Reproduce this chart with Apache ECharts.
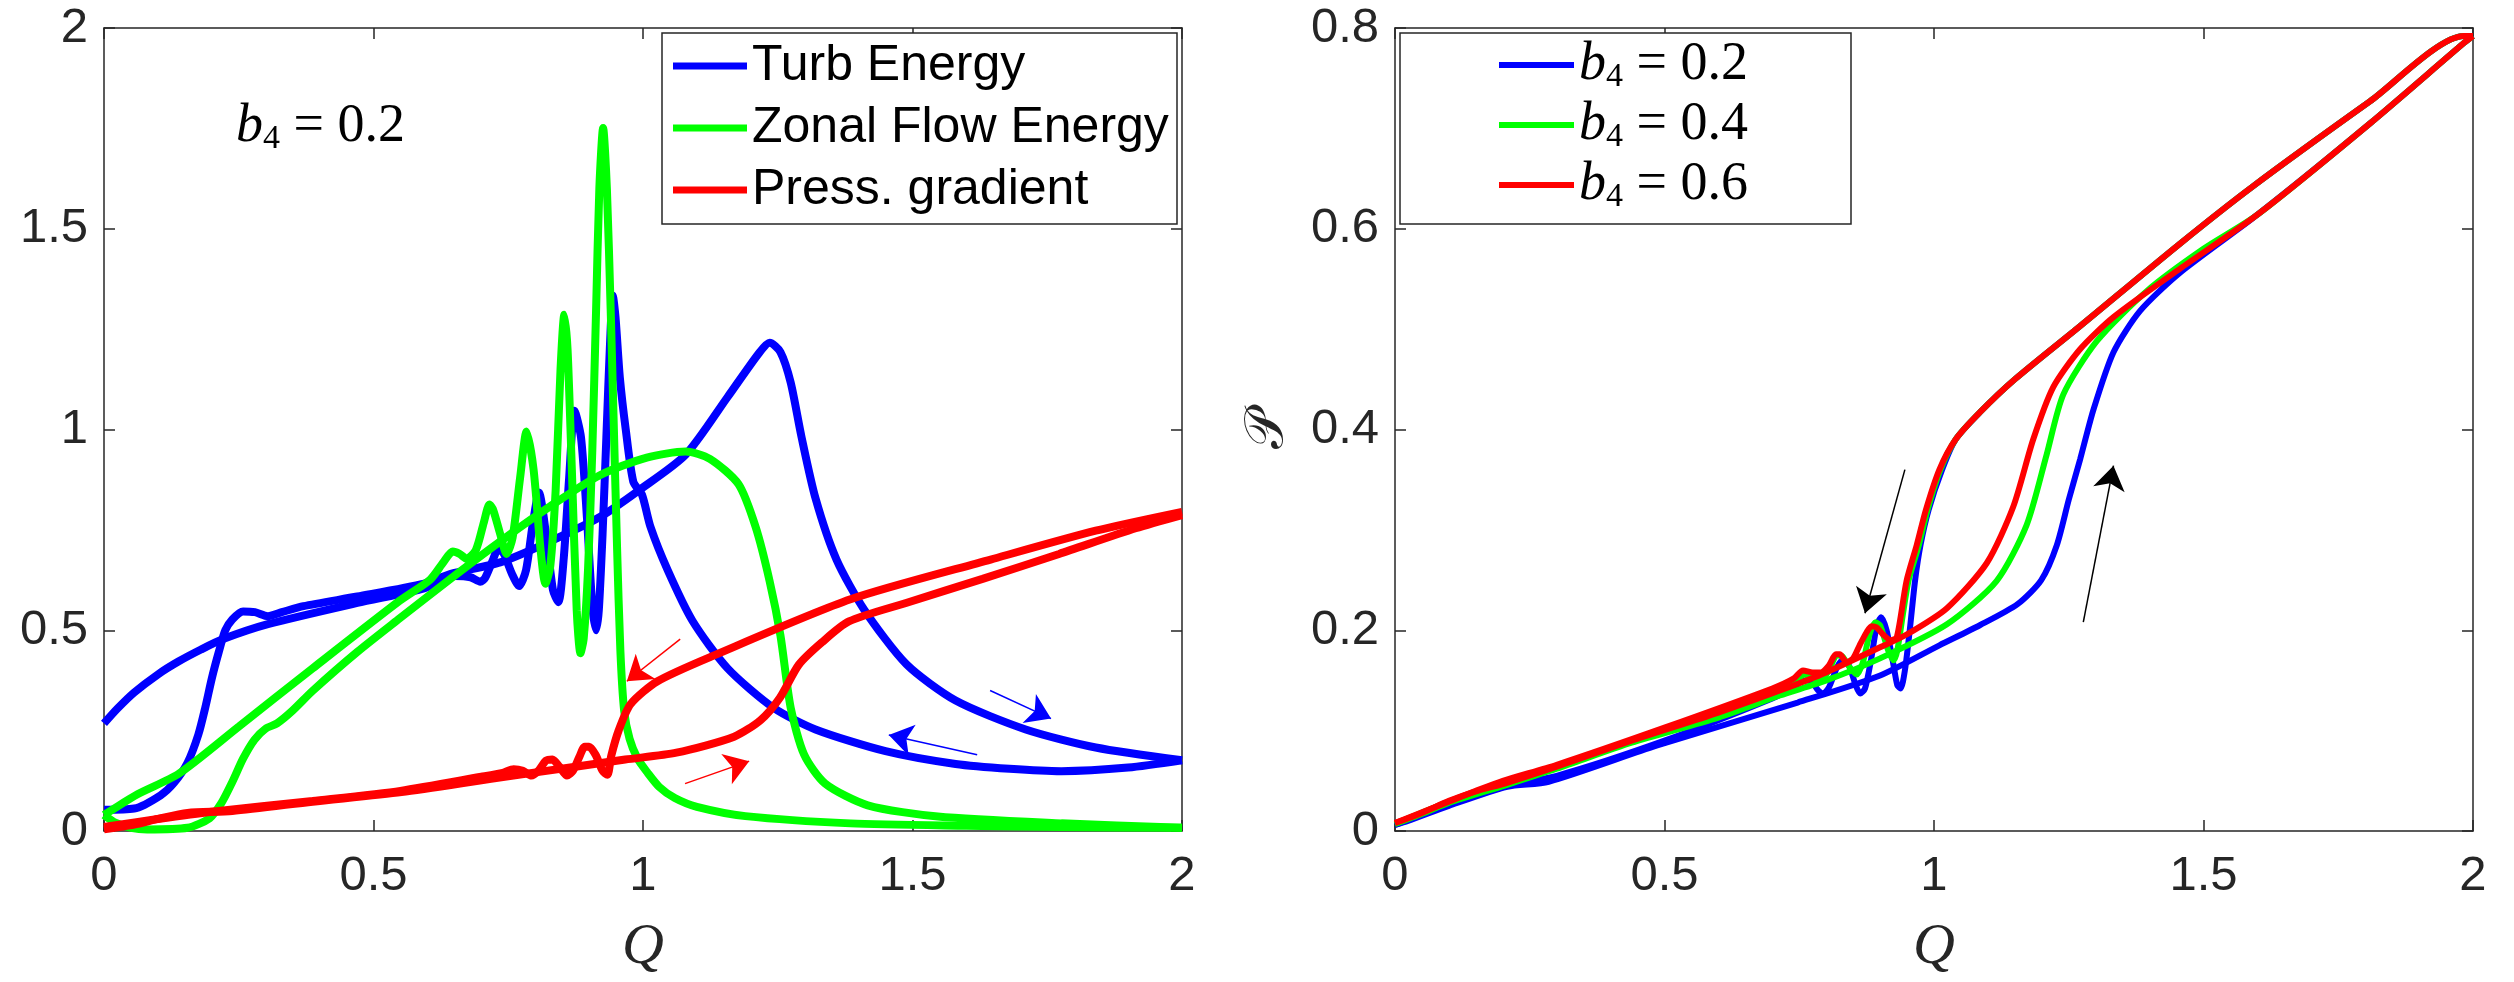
<!DOCTYPE html>
<html>
<head>
<meta charset="utf-8">
<script src="https://cdn.jsdelivr.net/npm/echarts@6/dist/echarts.min.js"></script>
<style>
html, body { margin: 0; padding: 0; background: #fff; }
#chart { width: 2514px; height: 982px; }
</style>
</head>
<body>
<div id="chart"></div>
<script>
// ---- left panel (b4 = 0.2): [Q, value] pairs, up = increasing Q, down = returning ----
var turbUp = [[0,0.053],[0.056,0.056],[0.105,0.089],[0.13,0.12],[0.155,0.17],[0.175,0.24],[0.188,0.308],[0.2,0.38],[0.213,0.446],[0.225,0.5],[0.238,0.527],[0.258,0.547],[0.28,0.545],[0.304,0.535],[0.33,0.545],[0.37,0.56],[0.47,0.584],[0.594,0.616],[0.642,0.64],[0.735,0.669],[0.827,0.721],[0.92,0.782],[0.994,0.85],[1.079,0.937],[1.157,1.081],[1.215,1.19],[1.235,1.216],[1.255,1.193],[1.274,1.117],[1.294,0.982],[1.32,0.829],[1.359,0.676],[1.411,0.55],[1.489,0.415],[1.58,0.325],[1.71,0.253],[1.84,0.208],[2,0.176]];
var turbDown = [[2,0.176],[1.9,0.158],[1.776,0.149],[1.68,0.155],[1.58,0.167],[1.45,0.199],[1.32,0.253],[1.242,0.307],[1.157,0.405],[1.092,0.523],[1.046,0.649],[1.014,0.757],[0.998,0.838],[0.982,0.87],[0.968,1.0],[0.957,1.13],[0.949,1.28],[0.944,1.334],[0.939,1.22],[0.932,0.98],[0.925,0.74],[0.918,0.55],[0.913,0.5],[0.906,0.56],[0.896,0.78],[0.885,0.98],[0.873,1.047],[0.863,0.88],[0.853,0.68],[0.843,0.57],[0.833,0.6],[0.82,0.74],[0.807,0.843],[0.795,0.76],[0.783,0.65],[0.77,0.61],[0.757,0.64],[0.742,0.69],[0.732,0.704],[0.72,0.67],[0.707,0.63],[0.698,0.621],[0.68,0.632],[0.65,0.635],[0.594,0.604],[0.47,0.568],[0.304,0.515],[0.221,0.478],[0.18,0.452],[0.138,0.422],[0.1,0.39],[0.056,0.345],[0.025,0.305],[0,0.268]];
var zonalUp = [[0,0.04],[0.022,0.02],[0.05,0.008],[0.08,0.004],[0.155,0.008],[0.196,0.032],[0.218,0.07],[0.238,0.122],[0.258,0.18],[0.279,0.227],[0.3,0.255],[0.321,0.268],[0.35,0.3],[0.387,0.349],[0.47,0.446],[0.549,0.53],[0.635,0.62],[0.735,0.721],[0.827,0.808],[0.92,0.886],[1.007,0.93],[1.079,0.945],[1.124,0.927],[1.177,0.864],[1.209,0.757],[1.235,0.622],[1.255,0.487],[1.274,0.307],[1.299,0.19],[1.338,0.118],[1.417,0.064],[1.547,0.036],[1.776,0.019],[2,0.008]];
var zonalDown = [[2,0.008],[1.776,0.01],[1.6,0.013],[1.385,0.019],[1.19,0.037],[1.1,0.06],[1.059,0.082],[1.03,0.11],[1.008,0.146],[0.99,0.18],[0.975,0.23],[0.965,0.3],[0.958,0.45],[0.952,0.7],[0.946,1.0],[0.94,1.3],[0.933,1.6],[0.926,1.751],[0.919,1.6],[0.913,1.3],[0.906,0.95],[0.898,0.65],[0.89,0.48],[0.884,0.443],[0.877,0.55],[0.868,0.9],[0.86,1.2],[0.854,1.286],[0.847,1.15],[0.838,0.85],[0.828,0.66],[0.819,0.616],[0.81,0.7],[0.797,0.9],[0.784,0.995],[0.772,0.88],[0.758,0.73],[0.747,0.69],[0.735,0.74],[0.722,0.8],[0.715,0.813],[0.705,0.77],[0.69,0.7],[0.673,0.678],[0.66,0.69],[0.647,0.696],[0.63,0.67],[0.605,0.626],[0.549,0.574],[0.387,0.405],[0.25,0.26],[0.138,0.142],[0.063,0.092],[0,0.04]];
var pressUp = [[0,0.004],[0.056,0.016],[0.1,0.03],[0.155,0.045],[0.238,0.05],[0.387,0.073],[0.552,0.097],[0.718,0.13],[0.884,0.162],[0.967,0.178],[1.062,0.195],[1.169,0.235],[1.218,0.276],[1.254,0.332],[1.289,0.414],[1.332,0.47],[1.382,0.522],[1.488,0.568],[1.63,0.628],[1.772,0.69],[1.914,0.754],[2,0.787]];
var pressDown = [[2,0.795],[1.84,0.748],[1.645,0.676],[1.385,0.577],[1.133,0.438],[1.027,0.373],[0.977,0.316],[0.955,0.251],[0.941,0.187],[0.934,0.14],[0.925,0.15],[0.912,0.19],[0.9,0.21],[0.892,0.21],[0.882,0.185],[0.87,0.15],[0.859,0.138],[0.845,0.16],[0.832,0.178],[0.82,0.175],[0.806,0.15],[0.793,0.138],[0.777,0.15],[0.76,0.154],[0.74,0.145],[0.7,0.135],[0.55,0.1],[0.387,0.075],[0.2,0.048],[0.1,0.03],[0,0.01]];

// ---- right panel: P against Q for three b4 values ----
var b2Up = [[0,0.006],[0.024,0.01],[0.1,0.025],[0.208,0.044],[0.285,0.049],[0.485,0.085],[0.747,0.128],[0.9,0.155],[1.01,0.185],[1.085,0.205],[1.155,0.226],[1.199,0.25],[1.228,0.285],[1.25,0.33],[1.271,0.37],[1.296,0.42],[1.333,0.477],[1.382,0.518],[1.456,0.556],[1.6,0.614],[1.809,0.705],[1.983,0.785],[2,0.792]];
var b2Down = [[2,0.792],[1.983,0.792],[1.809,0.727],[1.591,0.642],[1.456,0.585],[1.271,0.503],[1.15,0.45],[1.085,0.417],[1.04,0.39],[1.015,0.36],[0.99,0.32],[0.975,0.285],[0.965,0.25],[0.955,0.2],[0.946,0.16],[0.938,0.142],[0.932,0.145],[0.924,0.168],[0.912,0.2],[0.902,0.213],[0.894,0.205],[0.883,0.17],[0.872,0.142],[0.863,0.137],[0.855,0.145],[0.842,0.165],[0.83,0.17],[0.82,0.163],[0.805,0.143],[0.794,0.137],[0.785,0.14],[0.77,0.15],[0.755,0.15],[0.74,0.143],[0.7,0.132],[0.5,0.09],[0.3,0.055],[0.2,0.045],[0.1,0.027],[0,0.006]];
var b4Up = [[0,0.007],[0.05,0.017],[0.1,0.028],[0.208,0.046],[0.3,0.062],[0.439,0.088],[0.6,0.113],[0.714,0.135],[0.8,0.15],[0.9,0.172],[1.024,0.206],[1.116,0.249],[1.172,0.305],[1.209,0.375],[1.24,0.435],[1.302,0.488],[1.395,0.538],[1.5,0.58],[1.6,0.614],[1.809,0.705],[1.983,0.785],[2,0.792]];
var b4Down = [[2,0.792],[1.983,0.792],[1.809,0.727],[1.591,0.642],[1.456,0.585],[1.271,0.503],[1.15,0.45],[1.085,0.417],[1.04,0.39],[1.012,0.36],[0.988,0.32],[0.972,0.285],[0.953,0.25],[0.942,0.215],[0.932,0.18],[0.925,0.17],[0.915,0.18],[0.9,0.205],[0.891,0.208],[0.88,0.195],[0.868,0.168],[0.857,0.156],[0.845,0.162],[0.83,0.174],[0.82,0.175],[0.805,0.16],[0.79,0.15],[0.775,0.152],[0.76,0.156],[0.74,0.148],[0.7,0.138],[0.5,0.1],[0.3,0.064],[0.2,0.047],[0.1,0.029],[0,0.007]];
var b6Up = [[0,0.008],[0.05,0.018],[0.1,0.03],[0.147,0.039],[0.208,0.048],[0.3,0.064],[0.439,0.09],[0.6,0.118],[0.714,0.14],[0.8,0.158],[0.9,0.183],[0.95,0.196],[1.024,0.222],[1.098,0.267],[1.147,0.323],[1.184,0.39],[1.221,0.442],[1.271,0.48],[1.333,0.512],[1.456,0.56],[1.6,0.614],[1.809,0.705],[1.983,0.785],[2,0.792]];
var b6Down = [[2,0.792],[1.983,0.792],[1.809,0.727],[1.591,0.642],[1.456,0.585],[1.271,0.503],[1.15,0.45],[1.085,0.417],[1.04,0.39],[1.01,0.36],[0.985,0.32],[0.968,0.285],[0.949,0.249],[0.931,0.193],[0.92,0.19],[0.905,0.196],[0.893,0.203],[0.884,0.204],[0.875,0.198],[0.862,0.185],[0.85,0.172],[0.838,0.168],[0.825,0.176],[0.818,0.176],[0.805,0.165],[0.79,0.158],[0.775,0.158],[0.757,0.16],[0.74,0.152],[0.7,0.142],[0.5,0.103],[0.3,0.066],[0.2,0.05],[0.15,0.04],[0.08,0.025],[0,0.008]];

// direction arrows: [from, to] in data coordinates
var leftArrows = [
    {color: '#ff0000', coords: [[1.069,0.478],[0.97,0.373]]},
    {color: '#ff0000', coords: [[1.078,0.118],[1.197,0.174]]},
    {color: '#0000ff', coords: [[1.644,0.35],[1.757,0.28]]},
    {color: '#0000ff', coords: [[1.62,0.19],[1.456,0.239]]}
];
var rightArrows = [
    {color: '#000000', coords: [[0.946,0.36],[0.872,0.217]]},
    {color: '#000000', coords: [[1.277,0.208],[1.333,0.364]]}
];

var leftNames = ['Turb Energy', 'Zonal Flow Energy', 'Press. gradient'];
var rightNames = ['0.2', '0.4', '0.6'];
var xTicks = [0, 2, 0.5];
var leftYTicks = [0, 2, 0.5];
var rightYTicks = [0, 0.8, 0.2];

var BLUE = '#0000ff', GREEN = '#00ff00', RED = '#ff0000', INK = '#262626';

var myChart = echarts.init(document.getElementById('chart'));

function axisBase(range, gridIndex, position, showLabel) {
    return {
        type: 'value',
        gridIndex: gridIndex,
        position: position,
        min: range[0],
        max: range[1],
        interval: range[2],
        splitLine: {show: false},
        axisLine: {show: true, onZero: false, lineStyle: {color: INK, width: 1.5}},
        axisTick: {show: true, inside: true, length: 11, lineStyle: {color: INK, width: 1.5}},
        axisLabel: {
            show: showLabel,
            color: INK,
            fontSize: 49,
            fontFamily: 'Liberation Sans',
            margin: (position === 'bottom') ? 21 : 16
        }
    };
}

var mathRich = {
    i: {fontFamily: 'Liberation Serif', fontStyle: 'italic', fontSize: 54, color: '#000', lineHeight: 60},
    s: {fontFamily: 'Liberation Serif', fontSize: 34, color: '#000', lineHeight: 60, padding: [24, 0, 0, 0]},
    t: {fontFamily: 'Liberation Serif', fontSize: 54, color: '#000', lineHeight: 60}
};

function lineSeries(name, data, color, width, axis) {
    return {
        type: 'line',
        name: name,
        data: data,
        xAxisIndex: axis,
        yAxisIndex: axis,
        showSymbol: false,
        smooth: 0.25,
        color: color,
        lineStyle: {color: color, width: width},
        animation: false
    };
}

function arrowSeries(list, axis) {
    return list.map(function (a) {
        return {
            type: 'lines',
            coordinateSystem: 'cartesian2d',
            xAxisIndex: axis,
            yAxisIndex: axis,
            symbol: ['none', 'arrow'],
            symbolSize: 24,
            lineStyle: {color: a.color, width: 1.5, opacity: 1},
            data: [{coords: a.coords}],
            z: 5,
            animation: false
        };
    });
}

var series = [
    lineSeries(leftNames[0], turbUp, BLUE, 8, 0),
    lineSeries(leftNames[0], turbDown, BLUE, 8, 0),
    lineSeries(leftNames[1], zonalUp, GREEN, 8, 0),
    lineSeries(leftNames[1], zonalDown, GREEN, 8, 0),
    lineSeries(leftNames[2], pressUp, RED, 8, 0),
    lineSeries(leftNames[2], pressDown, RED, 8, 0),
    lineSeries(rightNames[0], b2Up, BLUE, 6, 2),
    lineSeries(rightNames[0], b2Down, BLUE, 6, 2),
    lineSeries(rightNames[1], b4Up, GREEN, 6, 2),
    lineSeries(rightNames[1], b4Down, GREEN, 6, 2),
    lineSeries(rightNames[2], b6Up, RED, 6, 2),
    lineSeries(rightNames[2], b6Down, RED, 6, 2)
].concat(arrowSeries(leftArrows, 0), arrowSeries(rightArrows, 2));

var qName = {
    name: 'Q',
    nameLocation: 'middle',
    nameGap: 88,
    nameTextStyle: {fontFamily: 'Liberation Serif', fontStyle: 'italic', fontSize: 58, color: INK}
};

// legend frames (white boxes behind the legend entries)
function frame(x, y, w, h) {
    return {
        type: 'rect',
        z: 3,
        shape: {x: x, y: y, width: w, height: h},
        style: {fill: '#fff', stroke: INK, lineWidth: 1.5}
    };
}

var option = {
    backgroundColor: '#fff',
    animation: false,
    grid: [
        {left: 104, top: 28, width: 1078, height: 822},
        {left: 1395, top: 28, width: 1078, height: 822}
    ],
    xAxis: [
        Object.assign(axisBase(xTicks, 0, 'bottom', true), qName),
        axisBase(xTicks, 0, 'top', false),
        Object.assign(axisBase(xTicks, 1, 'bottom', true), qName),
        axisBase(xTicks, 1, 'top', false)
    ],
    yAxis: [
        axisBase(leftYTicks, 0, 'left', true),
        axisBase(leftYTicks, 0, 'right', false),
        Object.assign(axisBase(rightYTicks, 1, 'left', true), {
            name: '\u{1D4AB}',
            nameLocation: 'middle',
            nameGap: 100,
            nameTextStyle: {fontFamily: 'DejaVu Serif', fontSize: 54, color: INK}
        }),
        axisBase(rightYTicks, 1, 'right', false)
    ],
    legend: [
        {
            data: leftNames,
            left: 662,
            top: 36,
            orient: 'vertical',
            icon: 'rect',
            itemWidth: 74,
            itemHeight: 7,
            itemGap: 2,
            itemTextGap: 9,
            padding: [0, 11, 0, 11],
            selectedMode: false,
            textStyle: {fontFamily: 'Liberation Sans', fontSize: 50, color: '#000', lineHeight: 60}
        },
        {
            data: rightNames,
            left: 1400,
            top: 36,
            orient: 'vertical',
            icon: 'rect',
            itemWidth: 75,
            itemHeight: 6,
            itemGap: 2,
            itemTextGap: 6,
            padding: [0, 0, 0, 99],
            selectedMode: false,
            formatter: function (name) { return '{i|b}{s|4}{t| = ' + name + '}'; },
            textStyle: {rich: mathRich}
        }
    ],
    graphic: [
        frame(662, 33, 515, 191),
        frame(1400, 33, 451, 191),
        {
            type: 'text',
            left: 236,
            top: 98,
            z: 10,
            style: {text: '{i|b}{s|4}{t| = 0.2}', rich: mathRich}
        }
    ],
    series: series
};

myChart.setOption(option);
</script>
</body>
</html>
